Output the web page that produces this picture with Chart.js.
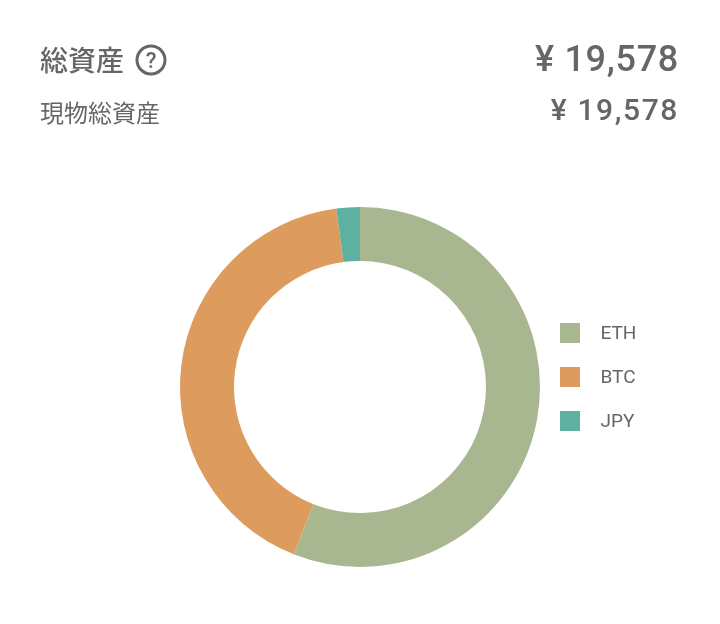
<!DOCTYPE html>
<html lang="ja"><head><meta charset="utf-8">
<script src="https://cdn.jsdelivr.net/npm/chart.js@4"></script>
<style>
html,body{margin:0;padding:0;background:#fff;width:720px;height:624px;overflow:hidden}
body{position:relative;color:#666;font-family:Roboto,"Noto Sans CJK JP",sans-serif}
canvas{position:absolute;left:0;top:0}
.t{position:absolute;white-space:nowrap;line-height:1}
.leg{position:absolute;left:560px;width:20px;height:20px}
.legt{position:absolute;left:600.5px;font-size:19px;line-height:20px}
</style></head><body>
<canvas id="c" width="720" height="624"></canvas>
<div class="t" style="left:40px;top:45px;font-size:28px;font-weight:500;font-family:'Noto Sans CJK JP'">総資産</div>
<svg style="position:absolute;left:135px;top:44px" width="32" height="32" viewBox="0 0 32 32">
<circle cx="16" cy="16" r="14" fill="none" stroke="#666" stroke-width="3"/>
<text x="16" y="23.5" text-anchor="middle" font-family="Roboto" font-weight="500" font-size="22" fill="#666">?</text></svg>
<div class="t" style="left:40px;top:100px;font-size:24px;font-family:'Noto Sans CJK JP'">現物総資産</div>
<div class="t" style="right:41px;top:41px;font-size:36px;font-weight:500;letter-spacing:.7px">¥ 19,578</div>
<div class="t" style="right:41px;top:95px;font-size:30px;font-weight:500;letter-spacing:1.6px">¥ 19,578</div>
<script>
const categories = ["ETH","BTC","JPY"];
const values = [56,41.9,2.1];
const colors = ["#a8b78f","#dd9c5d","#5eb0a0"];
const legendTops = [323,367,411];
categories.forEach((name,i)=>{
  const b=document.createElement('div');b.className='leg';b.style.top=legendTops[i]+'px';b.style.background=colors[i];document.body.appendChild(b);
  const t=document.createElement('div');t.className='legt';t.style.top=legendTops[i]+'px';t.textContent=name;document.body.appendChild(t);
});
new Chart(document.getElementById('c'),{
  type:'doughnut',
  data:{labels:categories,datasets:[{data:values,backgroundColor:colors,borderWidth:0}]},
  options:{responsive:false,animation:false,cutout:'70%',
    layout:{padding:{left:180,right:180,top:207,bottom:57}},
    plugins:{legend:{display:false},tooltip:{enabled:false}}}
});
</script></body></html>
